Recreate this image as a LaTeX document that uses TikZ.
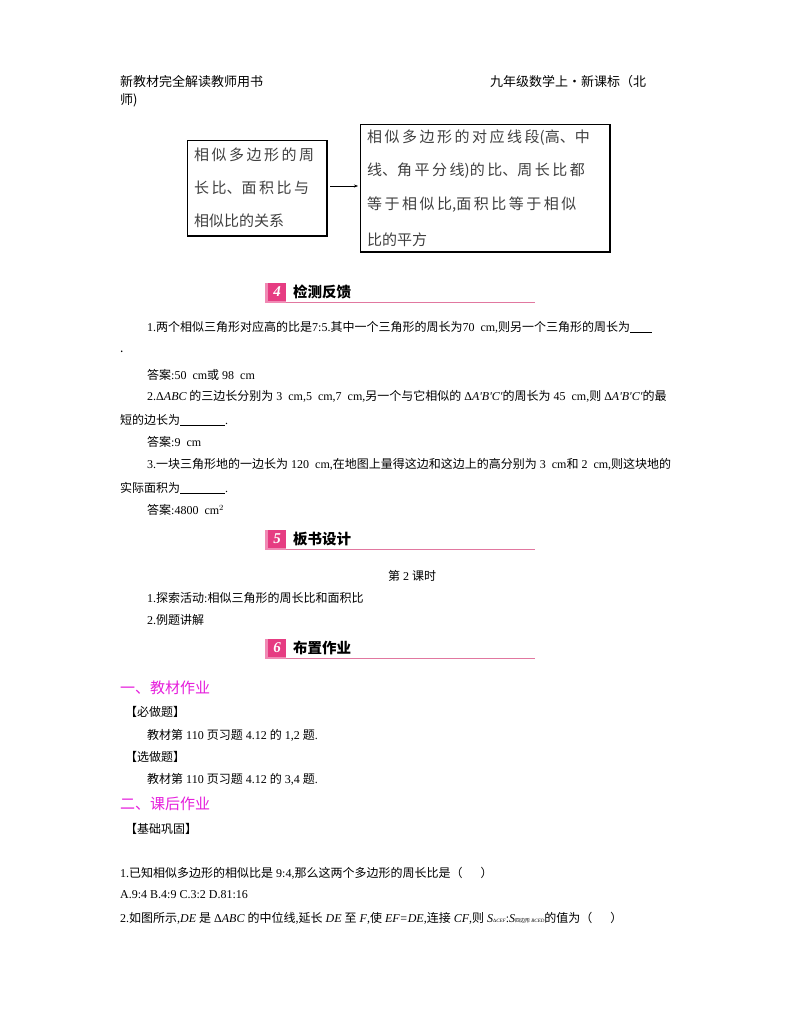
\documentclass[tikz,border=0pt]{standalone}
\usepackage{fontspec}
\setmainfont{Noto Sans CJK SC}
\newfontfamily\lat{Liberation Serif}
\usetikzlibrary{arrows.meta}
\definecolor{mag}{RGB}{230,30,220}
\definecolor{pinkline}{RGB}{225,120,160}
\definecolor{badge}{RGB}{230,60,130}
\tikzset{
 t/.style={anchor=west,inner sep=0pt,font=\fontsize{12}{14}\selectfont},
 bx/.style={anchor=west,inner sep=0pt,font=\fontsize{15}{18}\selectfont,color=black!75},
 hd/.style={anchor=west,inner sep=0pt,font=\fontsize{14.5}{16}\selectfont\bfseries},
 mg/.style={anchor=west,inner sep=0pt,font=\fontsize{15}{17}\selectfont,color=mag},
}
\newcommand{\sect}[4]{%
 \fill[badge!60] (265,#1-10) rectangle (286,#1+10);
 \fill[badge] (268,#1-10) rectangle (286,#1+8);
 \node[inner sep=0pt,font=\fontsize{15}{15}\selectfont\bfseries\itshape,color=white] (#3) at (277,#1-1) {\lat #2};
 \node[hd] (#3t) at (293,#1-1) {#4};
 \draw[pinkline,line width=0.8pt] (286,#1+9) -- (535,#1+9);}
\begin{document}
\begin{tikzpicture}[x=1pt,y=-1pt]
\useasboundingbox (0,0) rectangle (800,1028);
\fill[white] (0,0) rectangle (800,1028);
\node[t,font=\fontsize{13}{15}\selectfont] (h1) at (120,82) {新教材完全解读教师用书};
\node[t,font=\fontsize{13}{15}\selectfont] (h2) at (120,100) {师)};
\node[t,font=\fontsize{13}{15}\selectfont] (h3) at (490,82) {九年级数学上·新课标（北};
% boxes
\draw[line width=0.6pt] (187,140) rectangle (327,236);
\draw[line width=1.4pt] (327,140) -- (327,236) -- (187,236);
\node[bx] (a1) at (194,155) {相\,似\,多\,边\,形\,的\,周};
\node[bx] (a2) at (194,188) {长\,比、面\,积\,比\,与};
\node[bx] (a3) at (194,221) {相似比的关系};
\coordinate (L) at (330,186);
\coordinate (R) at (358,186);
\draw[-{Stealth[length=4pt]},line width=0.5pt] (L) -- (R);
\draw[line width=0.6pt] (360,124) rectangle (610,252);
\draw[line width=1.4pt] (610,124) -- (610,252) -- (360,252);
\node[bx] (b1) at (367,138) {相\,似\,多\,边\,形\,的\,对\,应\,线\,段(高、中};
\node[bx] (b2) at (367,171) {线、角\,平\,分\,线)的\,比、周\,长\,比\,都};
\node[bx] (b3) at (367,205) {等\,于\,相\,似\,比,面\,积\,比\,等\,于\,相\,似};
\node[bx] (b4) at (367,240) {比的平方};
\sect{293}{4}{s4}{检测反馈}
\node[t] (q1) at (147,327) {{\lat 1.}两个相似三角形对应高的比是{\lat 7:5.}其中一个三角形的周长为{\lat 70\ \ cm,}则另一个三角形的周长为\underline{\hspace{22pt}}};
\node[t] (q1b) at (120,352) {.};
\node[t] (a1x) at (147,375) {答案{\lat :50\ \ cm}或{\lat\ 98\ \ cm}};
\node[t] (q2) at (147,396) {{\lat 2.Δ\textit{ABC}} 的三边长分别为{\lat\ 3\ \ cm,5\ \ cm,7\ \ cm,}另一个与它相似的{\lat\ Δ\textit{A'B'C'}}的周长为{\lat\ 45\ \ cm,}则{\lat\ Δ\textit{A'B'C'}}的最};
\node[t] (q2b) at (120,420) {短的边长为\underline{\hspace{45pt}}{\lat .}};
\node[t] (a2x) at (147,442) {答案{\lat :9\ \ cm}};
\node[t] (q3) at (147,464) {{\lat 3.}一块三角形地的一边长为{\lat\ 120\ \ cm,}在地图上量得这边和这边上的高分别为{\lat\ 3\ \ cm}和{\lat\ 2\ \ cm,}则这块地的};
\node[t] (q3b) at (120,488) {实际面积为\underline{\hspace{45pt}}{\lat .}};
\node[t] (a3x) at (147,510) {答案{\lat :4800\ \ cm$^2$}};
\sect{540}{5}{s5}{板书设计}
\node[t] (k) at (388,576) {第{\lat\ 2\ }课时};
\node[t] (k1) at (147,598) {{\lat 1.}探索活动{\lat :}相似三角形的周长比和面积比};
\node[t] (k2) at (147,620) {{\lat 2.}例题讲解};
\sect{649}{6}{s6}{布置作业};
\node[mg] (m1) at (120,688) {一、教材作业};
\node[t] (r1) at (125,712) {【必做题】};
\node[t] (r1a) at (147,735) {教材第{\lat\ 110\ }页习题{\lat\ 4.12\ }的{\lat\ 1,2\ }题{\lat .}};
\node[t] (r2) at (125,757) {【选做题】};
\node[t] (r2a) at (147,779) {教材第{\lat\ 110\ }页习题{\lat\ 4.12\ }的{\lat\ 3,4\ }题{\lat .}};
\node[mg] (m2) at (120,804) {二、课后作业};
\node[t] (r3) at (125,829) {【基础巩固】};
\node[t] (p1) at (120,873) {{\lat 1.}已知相似多边形的相似比是{\lat\ 9:4,}那么这两个多边形的周长比是（\hspace{18pt}）};
\node[t] (p1a) at (120,895) {\lat A.9:4 B.4:9 C.3:2 D.81:16};
\node[t] (p2) at (120,918) {{\lat 2.}如图所示{\lat ,\textit{DE}\ }是{\lat\ Δ\textit{ABC}\ }的中位线{\lat ,}延长{\lat\ \textit{DE}\ }至{\lat\ \textit{F},}使{\lat\ \textit{EF=DE},}连接{\lat\ \textit{CF},}则{\lat\ \textit{S}}{\tiny\lat Δ\textit{CEF}}{\lat :\textit{S}}{\tiny 四边形{\lat\ \textit{BCED}}}的值为（\hspace{18pt}）};
\end{tikzpicture}
\end{document}
